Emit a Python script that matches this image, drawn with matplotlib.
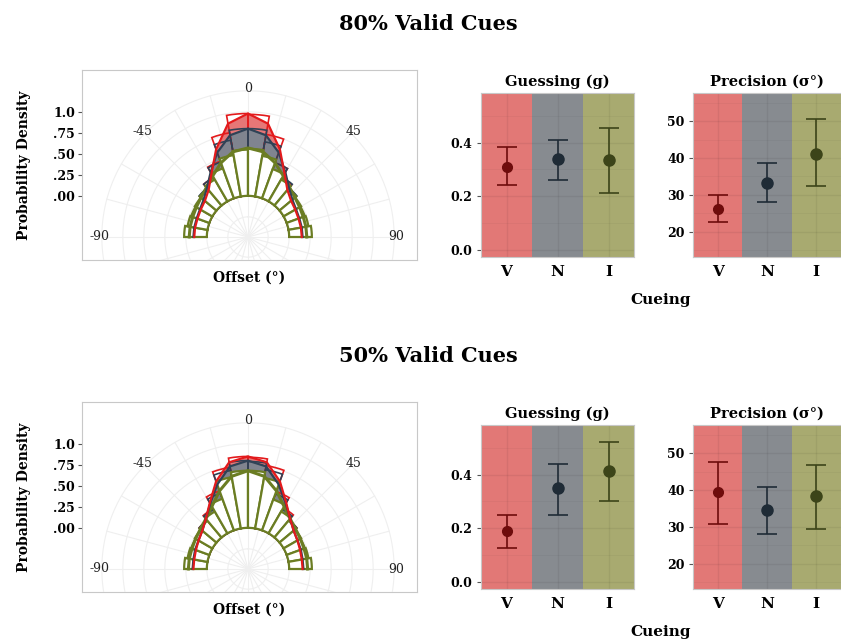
import numpy as np
import matplotlib.pyplot as plt

plt.rcParams['font.family'] = ['DejaVu Serif', 'DejaVu Sans']
plt.rcParams['font.weight'] = 'bold'
plt.rcParams['axes.titleweight'] = 'bold'
plt.rcParams['axes.labelweight'] = 'bold'

W, H = 841, 643
PX = 84.0      # pixels per density unit in the polar panels
R_IN = 0.49    # density 0 sits this far (in density units) from the centre
R_MAX = 1.51

cues = ['V', 'N', 'I']
bin_centers = np.arange(-85, 90, 10)        # offset bins (deg)
fit_angles = np.arange(-90, 91, 10)         # model curve samples (deg)

# ---- 80% valid cues -------------------------------------------------
hist80_V = [0.20, 0.19, 0.20, 0.22, 0.26, 0.33, 0.47, 0.77, 0.98, 0.97, 0.75, 0.45, 0.32, 0.25, 0.22, 0.20, 0.19, 0.20]
hist80_N = [0.21, 0.21, 0.22, 0.23, 0.27, 0.33, 0.46, 0.68, 0.80, 0.80, 0.66, 0.45, 0.33, 0.27, 0.23, 0.22, 0.21, 0.21]
hist80_I = [0.27, 0.24, 0.23, 0.24, 0.26, 0.30, 0.38, 0.50, 0.55, 0.56, 0.49, 0.37, 0.30, 0.26, 0.24, 0.23, 0.24, 0.27]
fit80_V = [0.15, 0.15, 0.15, 0.16, 0.18, 0.24, 0.38, 0.62, 0.88, 0.98, 0.88, 0.62, 0.38, 0.24, 0.18, 0.16, 0.15, 0.15, 0.15]
fit80_N = [0.16, 0.16, 0.16, 0.17, 0.20, 0.27, 0.40, 0.58, 0.74, 0.80, 0.74, 0.58, 0.40, 0.27, 0.20, 0.17, 0.16, 0.16, 0.16]
fit80_I = [0.21, 0.21, 0.21, 0.22, 0.24, 0.28, 0.35, 0.45, 0.54, 0.57, 0.54, 0.45, 0.35, 0.28, 0.24, 0.22, 0.21, 0.21, 0.21]

guess80 = [0.31, 0.34, 0.335]
guess80_lo = [0.24, 0.26, 0.21]
guess80_hi = [0.385, 0.41, 0.455]
prec80 = [26.3, 33.3, 41.2]
prec80_lo = [22.8, 28.0, 32.3]
prec80_hi = [29.9, 38.6, 50.5]

# ---- 50% valid cues -------------------------------------------------
hist50_V = [0.20, 0.19, 0.21, 0.22, 0.27, 0.34, 0.50, 0.74, 0.85, 0.84, 0.76, 0.49, 0.35, 0.27, 0.23, 0.21, 0.20, 0.20]
hist50_N = [0.21, 0.21, 0.22, 0.23, 0.27, 0.33, 0.47, 0.70, 0.80, 0.79, 0.71, 0.46, 0.33, 0.27, 0.23, 0.22, 0.21, 0.21]
hist50_I = [0.27, 0.24, 0.23, 0.24, 0.26, 0.30, 0.40, 0.62, 0.68, 0.68, 0.61, 0.39, 0.30, 0.26, 0.24, 0.23, 0.24, 0.27]
fit50_V = [0.16, 0.16, 0.17, 0.19, 0.22, 0.29, 0.42, 0.62, 0.80, 0.85, 0.80, 0.62, 0.42, 0.29, 0.22, 0.19, 0.17, 0.16, 0.16]
fit50_N = [0.17, 0.17, 0.18, 0.19, 0.22, 0.29, 0.41, 0.58, 0.75, 0.80, 0.75, 0.58, 0.41, 0.29, 0.22, 0.19, 0.18, 0.17, 0.17]
fit50_I = [0.22, 0.22, 0.22, 0.23, 0.25, 0.29, 0.37, 0.50, 0.63, 0.68, 0.63, 0.50, 0.37, 0.29, 0.25, 0.23, 0.22, 0.22, 0.22]

guess50 = [0.19, 0.35, 0.415]
guess50_lo = [0.127, 0.25, 0.30]
guess50_hi = [0.25, 0.44, 0.52]
prec50 = [39.4, 34.6, 38.3]
prec50_lo = [30.7, 28.2, 29.5]
prec50_hi = [47.6, 40.8, 46.7]

angle_ticks = [-90, -45, 0, 45, 90]
density_ticks = [0.0, 0.25, 0.5, 0.75, 1.0]
density_labels = ['.00', '.25', '.50', '.75', '1.0']

edge_cols = ['#e31a1c', '#2f4256', '#6b7d23']
fill_cols = ['#e25f5f', '#7b8591', '#8d9a4a']
band_cols = ['#e27876', '#878b90', '#a8aa70']
point_cols = ['#6e0c0c', '#1f2b36', '#3c4419']
grid_col = '#efefef'
frame_col = '#c8c8c8'

fig = plt.figure(figsize=(W / 100, H / 100), dpi=100)


def px_axes(left, top, right, bottom, **kw):
    return fig.add_axes([left / W, 1 - bottom / H, (right - left) / W, (bottom - top) / H], **kw)


def polar_panel(top, bottom, cy, hists, fits):
    left, right, cx = 82, 417, 248
    frame = px_axes(left, top, right, bottom)
    frame.set_xlim((left - cx) / PX, (right - cx) / PX)
    frame.set_ylim(-R_IN - (bottom - cy) / PX, -R_IN + (cy - top) / PX)
    frame.set_xticks([])
    frame.set_yticks(density_ticks)
    frame.set_yticklabels(density_labels, fontsize=9)
    frame.tick_params(axis='y', length=3, color='#555555', pad=2)
    for s in frame.spines.values():
        s.set_color(frame_col)
    frame.set_ylabel('Probability Density', fontsize=10, labelpad=16)
    frame.set_xlabel('Offset (°)', fontsize=10, labelpad=8)

    R = (R_MAX + R_IN) * PX
    pax = px_axes(cx - R, cy - R, cx + R, cy + R, projection='polar')
    pax.set_theta_zero_location('N')
    pax.set_theta_direction(-1)
    pax.set_ylim(-R_IN, R_MAX)
    pax.axis('off')

    arts = []
    circ = np.linspace(0, 2 * np.pi, 361)
    for d in np.arange(-0.25, 1.3, 0.25):
        arts += pax.plot(circ, np.full_like(circ, d), color=grid_col, lw=0.8, zorder=0.5)
    for a in np.arange(0, 360, 15):
        arts += pax.plot([np.deg2rad(a)] * 2, [-R_IN, 1.25], color=grid_col, lw=0.8, zorder=0.5)

    th = np.deg2rad(fit_angles)
    arts.append(pax.fill_between(th, 0, fits[0], color=fill_cols[0], alpha=0.85, lw=0, zorder=1))
    arts.append(pax.fill_between(th, 0, fits[1], color=fill_cols[1], alpha=0.95, lw=0, zorder=1.1))

    width = np.deg2rad(10)
    tb = np.deg2rad(bin_centers)
    arts += list(pax.bar(tb, hists[0], width=width, bottom=0, facecolor='none',
                         edgecolor=edge_cols[0], lw=1.2, zorder=2))
    arts += list(pax.bar(tb, hists[1], width=width, bottom=0, facecolor='none',
                         edgecolor=edge_cols[1], lw=1.2, zorder=2.1))
    arts += list(pax.bar(tb, hists[2], width=width, bottom=0, facecolor='white',
                         edgecolor=edge_cols[2], lw=1.6, zorder=3))
    for k in range(3):
        arts += pax.plot(th, fits[k], color=edge_cols[k], lw=1.6 if k < 2 else 2.2, zorder=4 - 0.1 * k)

    for a in arts:
        a.set_clip_path(frame.patch)

    for a in angle_ticks:
        pax.text(np.deg2rad(a), 1.28, str(a), ha='center', va='center',
                 fontsize=9, fontweight='normal', color='#222222')


def param_panel(left, top, right, bottom, vals, lo, hi, ylim, yticks, ylabels, minor, title):
    ax = px_axes(left, top, right, bottom)
    x = np.arange(3)
    for i in x:
        ax.axvspan(i - 0.5, i + 0.5, color=band_cols[i], lw=0, zorder=0)
    for y in yticks:
        ax.axhline(y, color='black', alpha=0.06, lw=1.0, zorder=0.5)
    for y in minor:
        ax.axhline(y, color='black', alpha=0.035, lw=0.6, zorder=0.5)
    for i in x:
        ax.axvline(i, color='black', alpha=0.06, lw=1.0, zorder=0.5)
    for i in x:
        ax.errorbar(i, vals[i], yerr=[[vals[i] - lo[i]], [hi[i] - vals[i]]], fmt='o',
                    color=point_cols[i], ms=8 if i else 7, capsize=7, elinewidth=1.2,
                    capthick=1.2, zorder=3)
    ax.set_xlim(-0.5, 2.5)
    ax.set_ylim(*ylim)
    ax.set_xticks(x)
    ax.set_xticklabels(cues, fontsize=11)
    ax.set_yticks(yticks)
    ax.set_yticklabels(ylabels, fontsize=9)
    ax.tick_params(length=3, color='#555555', pad=3)
    ax.tick_params(axis='x', length=0, pad=6)
    for s in ax.spines.values():
        s.set_color(frame_col)
    ax.set_title(title, fontsize=10.5, pad=5)
    return ax


def row(y0, hists, fits, guess, glo, ghi, prec, plo, phi, label):
    polar_panel(y0 + 70, y0 + 260, y0 + 237, hists, fits)
    param_panel(481, y0 + 93, 634, y0 + 257, guess, glo, ghi, (-0.027, 0.585),
                [0.0, 0.2, 0.4], ['0.0', '0.2', '0.4'], [0.1, 0.3, 0.5], 'Guessing (g)')
    param_panel(693, y0 + 93, 841, y0 + 257, prec, plo, phi, (13.2, 57.6),
                [20, 30, 40, 50], ['20', '30', '40', '50'], [15, 25, 35, 45, 55], 'Precision (σ°)')
    fig.text(428 / W, 1 - (y0 + 24) / H, label, ha='center', va='center', fontsize=15)
    fig.text(661 / W, 1 - (y0 + 300) / H, 'Cueing', ha='center', va='center', fontsize=11)


row(0, [hist80_V, hist80_N, hist80_I], [fit80_V, fit80_N, fit80_I],
    guess80, guess80_lo, guess80_hi, prec80, prec80_lo, prec80_hi, '80% Valid Cues')
row(332, [hist50_V, hist50_N, hist50_I], [fit50_V, fit50_N, fit50_I],
    guess50, guess50_lo, guess50_hi, prec50, prec50_lo, prec50_hi, '50% Valid Cues')

fig.savefig('out.png', dpi=100)
